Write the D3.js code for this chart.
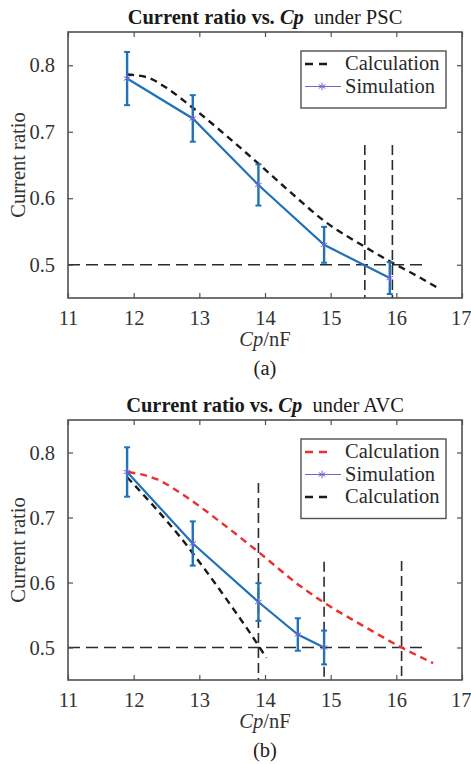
<!DOCTYPE html>
<html>
<head>
<meta charset="utf-8">
<script src="https://cdn.jsdelivr.net/npm/d3@7"></script>
<style>
  body { margin: 0; background: #fff; }
  svg text { font-family: "Liberation Serif", "Times New Roman", Times, serif; fill: #333; }
</style>
</head>
<body>
<svg id="chart"></svg>
<script>
// axis ticks (shared by both panels)
const xTicks = [11, 12, 13, 14, 15, 16, 17];
const yTicks = [0.5, 0.6, 0.7, 0.8];

// (a) PSC
const simA_x = [11.9, 12.9, 13.9, 14.9, 15.9];
const simA_y = [0.78, 0.72, 0.62, 0.53, 0.48];
const simA_err = [0.04, 0.035, 0.031, 0.027, 0.024];
const calcA_x = [11.9, 12.2, 12.5, 12.9, 13.4, 13.9, 14.4, 14.9, 15.52, 15.94, 16.3, 16.65];
const calcA_y = [0.786, 0.782, 0.766, 0.736, 0.695, 0.652, 0.608, 0.566, 0.527, 0.503, 0.484, 0.464];
const vlineA_x = [15.52, 15.94];
const vlineA_top = [0.68, 0.68];
const hlineA_end = 16.43;

// (b) AVC
const simB_x = [11.9, 12.9, 13.9, 14.5, 14.9];
const simB_y = [0.77, 0.66, 0.57, 0.52, 0.5];
const simB_err = [0.038, 0.034, 0.029, 0.025, 0.026];
const calcRedB_x = [11.92, 12.35, 12.81, 13.36, 13.9, 14.53, 14.9, 15.5, 16.08, 16.56];
const calcRedB_y = [0.770, 0.759, 0.731, 0.690, 0.647, 0.595, 0.569, 0.533, 0.5, 0.476];
const calcBlackB_x = [11.9, 12.3, 12.7, 13.1, 13.5, 13.9, 14.02];
const calcBlackB_y = [0.762, 0.718, 0.671, 0.618, 0.562, 0.503, 0.484];
const vlineB_x = [13.9, 14.9, 16.08];
const vlineB_top = [0.753, 0.632, 0.633];
const hlineB_end = 16.41;

const W = 471, H = 764;
const FS = "20.5px";
const blue = "#1f72b8", star = "#7066d0", red = "#e8302e", dark = "#2b2b2b", axisCol = "#505050";

const svg = d3.select("#chart").attr("width", W).attr("height", H);

function drawPanel(p) {
    const x = d3.scaleLinear().domain([11, 17]).range([68, 462]);
    const y = d3.scaleLinear().domain([0.45, 0.85]).range([p.bottom, p.top]);
    const g = svg.append("g");

    // title
    const t = g.append("text")
        .attr("x", 265).attr("y", p.top - 8)
        .attr("text-anchor", "middle")
        .style("font-size", FS).style("fill", "#1a1a1a");
    t.append("tspan").style("font-weight", "bold").text("Current ratio vs. ");
    t.append("tspan").style("font-weight", "bold").style("font-style", "italic").text("Cp");
    t.append("tspan").text("\u00a0 under " + p.mode);

    // reference lines
    g.append("line")
        .attr("x1", x(11)).attr("x2", x(p.hEnd))
        .attr("y1", y(0.5)).attr("y2", y(0.5))
        .attr("stroke", dark).attr("stroke-width", 1.6)
        .attr("stroke-dasharray", "12,6");
    g.selectAll(".vl")
        .data(p.vx.map((v, i) => ({ x: v, top: p.vtop[i] })))
        .enter().append("line")
        .attr("x1", d => x(d.x)).attr("x2", d => x(d.x))
        .attr("y1", d => y(d.top)).attr("y2", y(0.45))
        .attr("stroke", dark).attr("stroke-width", 1.6)
        .attr("stroke-dasharray", "10,5");

    const curve = d3.line().x(d => x(d[0])).y(d => y(d[1])).curve(d3.curveMonotoneX);

    // calculation curves
    p.calcs.forEach(c => {
        g.append("path")
            .datum(c.xs.map((v, i) => [v, c.ys[i]]))
            .attr("d", curve)
            .attr("fill", "none")
            .attr("stroke", c.color).attr("stroke-width", 2.4)
            .attr("stroke-dasharray", "7,5");
    });

    // simulation with error bars
    const sim = p.sx.map((v, i) => ({ x: v, y: p.sy[i], e: p.se[i] }));
    g.append("path")
        .datum(sim)
        .attr("d", d3.line().x(d => x(d.x)).y(d => y(d.y)))
        .attr("fill", "none")
        .attr("stroke", blue).attr("stroke-width", 2.2);

    const eb = g.selectAll(".eb").data(sim).enter().append("g");
    eb.append("line")
        .attr("x1", d => x(d.x)).attr("x2", d => x(d.x))
        .attr("y1", d => y(d.y + d.e)).attr("y2", d => y(d.y - d.e))
        .attr("stroke", blue).attr("stroke-width", 2.4);
    [1, -1].forEach(s => {
        eb.append("line")
            .attr("x1", d => x(d.x) - 3).attr("x2", d => x(d.x) + 3)
            .attr("y1", d => y(d.y + s * d.e)).attr("y2", d => y(d.y + s * d.e))
            .attr("stroke", blue).attr("stroke-width", 2);
    });

    const sym = d3.symbol().type(d3.symbolAsterisk || d3.symbolCross).size(40);
    g.selectAll(".mk").data(sim).enter().append("path")
        .attr("d", sym)
        .attr("transform", d => `translate(${x(d.x)},${y(d.y)})`)
        .attr("fill", "none")
        .attr("stroke", star).attr("stroke-width", 1);

    // axes box with inward ticks on all sides
    g.append("rect")
        .attr("x", 68).attr("y", p.top)
        .attr("width", 394).attr("height", p.bottom - p.top)
        .attr("fill", "none").attr("stroke", axisCol).attr("stroke-width", 1.6);

    const xb = g.append("g").attr("transform", `translate(0,${p.bottom})`)
        .call(d3.axisBottom(x).tickValues(xTicks).tickSizeInner(-5).tickSizeOuter(0).tickPadding(12).tickFormat(d3.format("d")));
    const xt = g.append("g").attr("transform", `translate(0,${p.top})`)
        .call(d3.axisTop(x).tickValues(xTicks).tickSizeInner(-5).tickSizeOuter(0).tickFormat(""));
    const yl = g.append("g").attr("transform", "translate(68,0)")
        .call(d3.axisLeft(y).tickValues(yTicks).tickSizeInner(-5).tickSizeOuter(0).tickPadding(13).tickFormat(d3.format(".1f")));
    const yr = g.append("g").attr("transform", "translate(462,0)")
        .call(d3.axisRight(y).tickValues(yTicks).tickSizeInner(-5).tickSizeOuter(0).tickFormat(""));
    [xb, xt, yl, yr].forEach(a => {
        a.attr("font-family", null).attr("font-size", null);
        a.select(".domain").remove();
        a.selectAll("line").attr("stroke", axisCol).attr("stroke-width", 1.2);
        a.selectAll("text").style("font-size", FS).attr("fill", "#333");
    });
    // keep the last label inside the page edge
    xb.selectAll(".tick text").filter(d => d === 17).attr("text-anchor", "end").attr("x", 9);

    // axis labels
    g.append("text")
        .attr("transform", `translate(25,${(p.top + p.bottom) / 2}) rotate(-90)`)
        .attr("text-anchor", "middle")
        .style("font-size", FS)
        .text("Current ratio");
    const xl = g.append("text")
        .attr("x", 265).attr("y", p.bottom + 48)
        .attr("text-anchor", "middle")
        .style("font-size", FS);
    xl.append("tspan").style("font-style", "italic").text("Cp");
    xl.append("tspan").text("/nF");

    g.append("text")
        .attr("x", 265).attr("y", p.bottom + 77)
        .attr("text-anchor", "middle")
        .style("font-size", FS).style("fill", "#1a1a1a")
        .text(p.tag);

    // legend
    const n = p.legend.length;
    const lg = g.append("g");
    lg.append("rect")
        .attr("x", 301).attr("y", p.top + 19)
        .attr("width", 145).attr("height", 12 + n * 22.5)
        .attr("fill", "#fff").attr("stroke", axisCol).attr("stroke-width", 1.4);
    p.legend.forEach((it, i) => {
        const cy = p.top + 30 + i * 22.5 + 2;
        if (it.type === "dash") {
            lg.append("line")
                .attr("x1", 305).attr("x2", 330).attr("y1", cy).attr("y2", cy)
                .attr("stroke", it.color).attr("stroke-width", 2.6)
                .attr("stroke-dasharray", "8,6");
        } else {
            lg.append("line")
                .attr("x1", 305).attr("x2", 341).attr("y1", cy).attr("y2", cy)
                .attr("stroke", star).attr("stroke-width", 1.2);
            lg.append("path").attr("d", sym)
                .attr("transform", `translate(322,${cy})`)
                .attr("fill", "none").attr("stroke", star).attr("stroke-width", 1);
        }
        lg.append("text")
            .attr("x", 345).attr("y", cy + 6)
            .style("font-size", FS).style("fill", "#2a2a2a")
            .text(it.label);
    });
}

drawPanel({
    top: 32, bottom: 298, mode: "PSC", tag: "(a)",
    sx: simA_x, sy: simA_y, se: simA_err,
    calcs: [{ xs: calcA_x, ys: calcA_y, color: "#1a1a1a" }],
    vx: vlineA_x, vtop: vlineA_top, hEnd: hlineA_end,
    legend: [
        { type: "dash", color: "#1a1a1a", label: "Calculation" },
        { type: "sim", label: "Simulation" }
    ]
});

drawPanel({
    top: 420, bottom: 680, mode: "AVC", tag: "(b)",
    sx: simB_x, sy: simB_y, se: simB_err,
    calcs: [
        { xs: calcRedB_x, ys: calcRedB_y, color: red },
        { xs: calcBlackB_x, ys: calcBlackB_y, color: "#1a1a1a" }
    ],
    vx: vlineB_x, vtop: vlineB_top, hEnd: hlineB_end,
    legend: [
        { type: "dash", color: red, label: "Calculation" },
        { type: "sim", label: "Simulation" },
        { type: "dash", color: "#1a1a1a", label: "Calculation" }
    ]
});
</script>
</body>
</html>
